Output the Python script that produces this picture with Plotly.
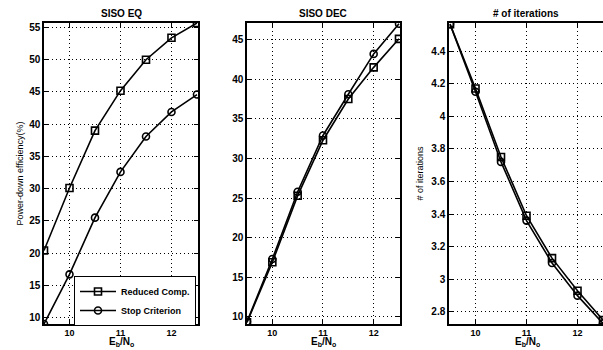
import plotly.graph_objects as go

ebno = [9.5, 10, 10.5, 11, 11.5, 12, 12.5]

# SISO EQ (power-down efficiency %)
eq_reduced = [20.4, 30.1, 39.0, 45.2, 50.0, 53.4, 55.7]
eq_stop = [9.0, 16.7, 25.5, 32.6, 38.1, 41.9, 44.6]

# SISO DEC (power-down efficiency %)
dec_reduced = [9.3, 16.9, 25.3, 32.3, 37.5, 41.5, 45.1]
dec_stop = [9.4, 17.3, 25.8, 32.9, 38.1, 43.2, 47.0]

# number of iterations
it_reduced = [4.565, 4.17, 3.75, 3.39, 3.13, 2.93, 2.75]
it_stop = [4.565, 4.15, 3.72, 3.36, 3.10, 2.90, 2.73]

series_names = ["Reduced Comp.", "Stop Criterion"]
panel_titles = ["SISO EQ", "SISO DEC", "# of iterations"]
x_ticks = [10, 11, 12]
eq_ticks = [10, 15, 20, 25, 30, 35, 40, 45, 50, 55]
dec_ticks = [10, 15, 20, 25, 30, 35, 40, 45]
it_ticks = [2.8, 3.0, 3.2, 3.4, 3.6, 3.8, 4.0, 4.2, 4.4]
it_labels = ["2.8", "3", "3.2", "3.4", "3.6", "3.8", "4", "4.2", "4.4"]

W, H = 603, 350
FONT = "Liberation Sans"

def fx(px):
    return px / W

def fy(py):
    return 1 - py / H

top_px, bot_px = 23, 324
ydom = [fy(bot_px), fy(top_px)]
xdoms = [[fx(44), fx(198)], [fx(247), fx(400)], [fx(449), 1.0]]

fig = go.Figure()

panels = [
    (eq_reduced, eq_stop, "x", "y"),
    (dec_reduced, dec_stop, "x2", "y2"),
    (it_reduced, it_stop, "x3", "y3"),
]
for i, (red, stop, xa, ya) in enumerate(panels):
    for vals, sym, name in [(red, "square-open", series_names[0]),
                            (stop, "circle-open", series_names[1])]:
        fig.add_trace(go.Scatter(
            x=ebno, y=vals, xaxis=xa, yaxis=ya, mode="lines+markers",
            name=name, showlegend=(i == 0),
            line=dict(color="black", width=1.6),
            marker=dict(symbol=sym, size=7, color="black",
                        line=dict(color="black", width=1.6)),
        ))

axis_common = dict(
    showline=True, linecolor="black", linewidth=1.5,
    ticks="inside", ticklen=4, tickcolor="black",
    showgrid=True, gridcolor="black", griddash="1px,3px", gridwidth=1,
    zeroline=False,
)
ytickfont = dict(family=FONT, size=10, color="black", weight="bold")
xtickfont = dict(family=FONT, size=9, color="black", weight="bold")

fig.update_layout(
    width=W, height=H,
    margin=dict(l=0, r=0, t=0, b=0),
    paper_bgcolor="white", plot_bgcolor="white",
    showlegend=True,
    legend=dict(
        x=fx(196), y=fy(276), xanchor="right", yanchor="top",
        bgcolor="white", bordercolor="black", borderwidth=1,
        font=dict(family=FONT, size=9, color="black", weight="bold"),
        itemwidth=36, tracegroupgap=0,
    ),
    xaxis=dict(domain=xdoms[0], range=[9.5, 12.52], tickvals=x_ticks,
               mirror="ticks", tickfont=xtickfont, ticklabelstandoff=-1,
               **axis_common),
    yaxis=dict(domain=ydom, range=[9.0, 55.7], tickvals=eq_ticks,
               mirror="ticks", anchor="x", tickfont=ytickfont,
               title=dict(text="Power-down efficiency(%)",
                          font=dict(family=FONT, size=9, color="black"),
                          standoff=4),
               **axis_common),
    xaxis2=dict(domain=xdoms[1], range=[9.5, 12.52], tickvals=x_ticks,
                mirror="ticks", anchor="y2", tickfont=xtickfont,
                ticklabelstandoff=-1, **axis_common),
    yaxis2=dict(domain=ydom, range=[9.1, 47.1], tickvals=dec_ticks,
                mirror="ticks", anchor="x2", tickfont=ytickfont,
                **axis_common),
    xaxis3=dict(domain=xdoms[2], range=[9.48, 12.5], tickvals=x_ticks,
                mirror="ticks", anchor="y3", tickfont=xtickfont,
                ticklabelstandoff=-1, **axis_common),
    yaxis3=dict(domain=ydom, range=[2.726, 4.572], tickvals=it_ticks,
                ticktext=it_labels, mirror=False, anchor="x3",
                tickfont=ytickfont,
                title=dict(text="# of iterations",
                           font=dict(family=FONT, size=9, color="black"),
                           standoff=6),
                **axis_common),
)

centers = [fx(121), fx(323), fx(526)]
for i, t in enumerate(panel_titles):
    fig.add_annotation(
        text=t, xref="paper", yref="paper",
        x=centers[i], y=fy(top_px) + 0.006, xanchor="center", yanchor="bottom",
        showarrow=False,
        font=dict(family=FONT, size=10, color="black", weight="bold"),
    )
    fig.add_annotation(
        text="E<sub>b</sub>/N<sub>o</sub>", xref="paper", yref="paper",
        x=centers[i] if i < 2 else fx(527), y=0, xanchor="center", yanchor="bottom",
        showarrow=False,
        font=dict(family=FONT, size=10, color="black", weight="bold"),
    )

fig.write_html("out.html")
